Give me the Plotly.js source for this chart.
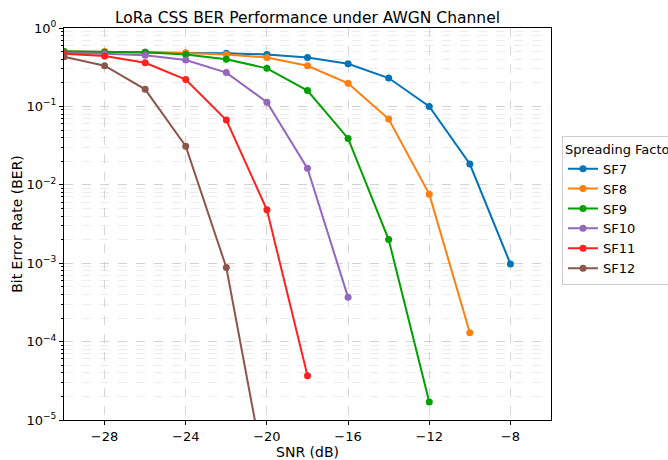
<!DOCTYPE html>
<html>
<head>
<meta charset="utf-8">
<script src="https://cdn.plot.ly/plotly-3.0.1.min.js"></script>
<style>html,body{margin:0;padding:0;background:#fff;}#chart{width:668px;height:460px;}</style>
</head>
<body>
<div id="chart"></div>
<script>
const snr = [-30, -28, -26, -24, -22, -20, -18, -16, -14, -12, -10, -8];
const sf7  = [0.50, 0.49, 0.49, 0.48, 0.475, 0.46, 0.42, 0.35, 0.23, 0.10, 0.0184, 0.00098];
const sf8  = [0.50, 0.50, 0.49, 0.48, 0.46, 0.42, 0.33, 0.197, 0.069, 0.0076, 0.00013];
const sf9  = [0.50, 0.49, 0.49, 0.46, 0.40, 0.306, 0.159, 0.039, 0.0020, 0.000017];
const sf10 = [0.48, 0.47, 0.45, 0.39, 0.27, 0.113, 0.0162, 0.000367];
const sf11 = [0.47, 0.44, 0.36, 0.22, 0.067, 0.0048, 0.0000367];
const sf12 = [0.43, 0.33, 0.165, 0.031, 0.00088, 0.0000015];
const seriesNames = ['SF7', 'SF8', 'SF9', 'SF10', 'SF11', 'SF12'];
const colors = ['#0173b8', '#ff7f0e', '#00a000', '#9467bd', '#ff2020', '#8c564b'];
const yTickVals = [1e-5, 1e-4, 1e-3, 1e-2, 1e-1, 1];
const yTickText = ['10<sup>−5</sup>', '10<sup>−4</sup>', '10<sup>−3</sup>', '10<sup>−2</sup>', '10<sup>−1</sup>', '10<sup>0</sup>'];
const xTickVals = [-28, -24, -20, -16, -12, -8];
const xTickText = ['−28', '−24', '−20', '−16', '−12', '−8'];

const allY = [sf7, sf8, sf9, sf10, sf11, sf12];
const traces = allY.map((ys, i) => ({
  x: snr.slice(0, ys.length),
  y: ys,
  name: seriesNames[i],
  mode: 'lines+markers',
  type: 'scatter',
  line: {color: colors[i], width: 2},
  marker: {color: colors[i], size: 7},
  cliponaxis: true
}));

const font = {family: 'DejaVu Sans, sans-serif', color: '#000'};
const layout = {
  width: 668, height: 460,
  margin: {l: 64, r: 117, t: 28, b: 40, autoexpand: false},
  paper_bgcolor: '#fff', plot_bgcolor: '#fff',
  font: Object.assign({size: 13}, font),
  title: {text: 'LoRa CSS BER Performance under AWGN Channel', font: Object.assign({size: 15.5}, font), xref: 'paper', x: 0.5, xanchor: 'center', yref: 'container', y: 0.962, yanchor: 'middle'},
  xaxis: {
    title: {text: 'SNR (dB)', font: Object.assign({size: 14}, font), standoff: 3},
    range: [-30, -6],
    tickvals: xTickVals, ticktext: xTickText,
    ticks: 'outside', ticklen: 4, tickcolor: '#000',
    showline: true, linecolor: '#000', linewidth: 1, mirror: true,
    showgrid: true, gridcolor: '#cccccc', griddash: 'dash', gridwidth: 0.8,
    zeroline: false, tickfont: Object.assign({size: 13}, font)
  },
  yaxis: {
    title: {text: 'Bit Error Rate (BER)', font: Object.assign({size: 14}, font), standoff: 0},
    type: 'log',
    range: [-5, 0],
    tickvals: yTickVals, ticktext: yTickText,
    ticks: 'outside', ticklen: 4, tickcolor: '#000',
    showline: true, linecolor: '#000', linewidth: 1, mirror: true,
    showgrid: true, gridcolor: '#cccccc', griddash: 'dash', gridwidth: 0.8,
    minor: {showgrid: true, gridcolor: '#e0e0e0', griddash: 'dash', gridwidth: 0.6, ticks: 'outside', ticklen: 2, tickcolor: '#000', dtick: 'D1'},
    zeroline: false, tickfont: Object.assign({size: 13}, font)
  },
  legend: {
    title: {text: 'Spreading Factor', font: Object.assign({size: 13}, font)},
    x: 1.0226, xanchor: 'left', y: 0.535, yanchor: 'middle',
    bordercolor: '#cccccc', borderwidth: 1, bgcolor: '#fff',
    font: Object.assign({size: 13}, font),
    tracegroupgap: 0
  },
  showlegend: true
};

Plotly.newPlot('chart', traces, layout, {displayModeBar: false, staticPlot: true});
</script>
</body>
</html>
